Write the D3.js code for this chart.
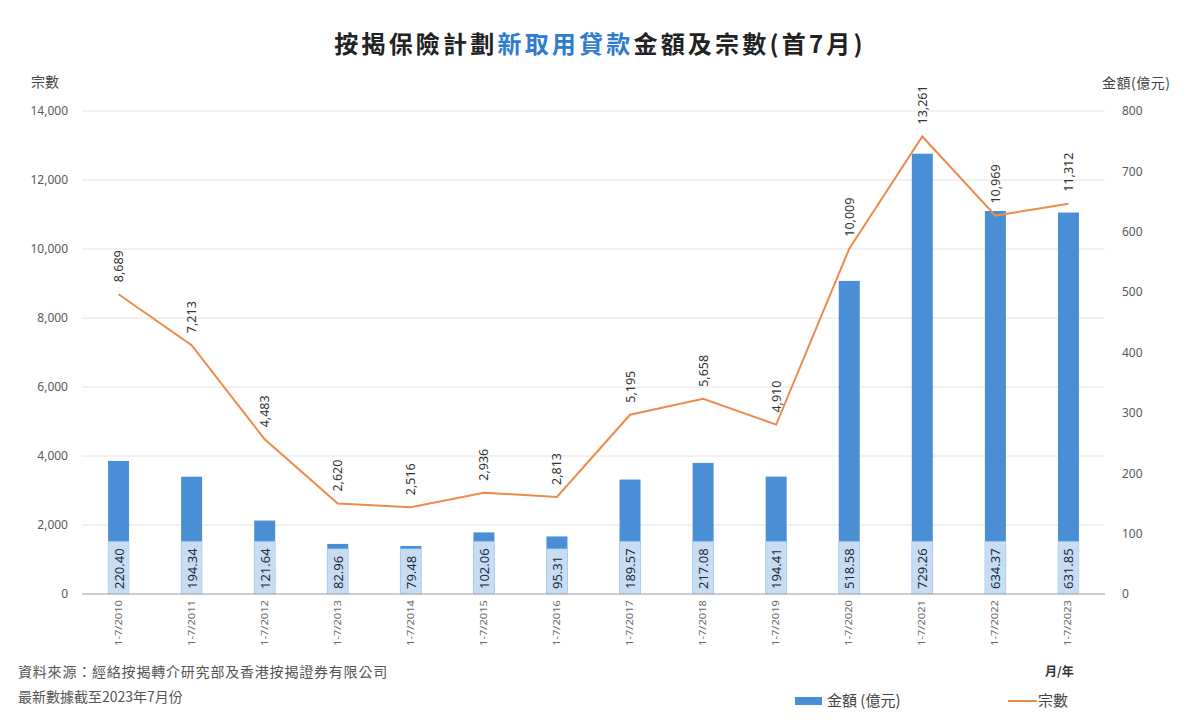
<!DOCTYPE html>
<html><head><meta charset="utf-8">
<script src="https://cdn.jsdelivr.net/npm/d3@7"></script>
<style>
body{margin:0;background:#fff;}
svg{display:block;font-family:"Noto Sans CJK TC","Noto Sans",sans-serif;}
</style></head>
<body><svg id="c" width="1200" height="721"></svg>
<script>
const categories = ["1-7/2010","1-7/2011","1-7/2012","1-7/2013","1-7/2014","1-7/2015","1-7/2016","1-7/2017","1-7/2018","1-7/2019","1-7/2020","1-7/2021","1-7/2022","1-7/2023"];
const amounts = [220.40,194.34,121.64,82.96,79.48,102.06,95.31,189.57,217.08,194.41,518.58,729.26,634.37,631.85];
const counts = [8689,7213,4483,2620,2516,2936,2813,5195,5658,4910,10009,13261,10969,11312];
const leftTicks = [0,2000,4000,6000,8000,10000,12000,14000];
const rightTicks = [0,100,200,300,400,500,600,700,800];

const svg = d3.select("#c");
const L = 82, R = 1105, T = 111, B = 594;
const x = d3.scaleBand().domain(categories).range([L, R]);
const yL = d3.scaleLinear().domain([0,14000]).range([B, T]);
const yR = d3.scaleLinear().domain([0,800]).range([B, T]);
const barW = 21;
const barColor = "#4a8fd6", lineColor = "#ee8a4a";

// title
const title = svg.append("text").attr("x",600).attr("y",53).attr("text-anchor","middle")
  .attr("font-size",24).attr("font-weight","bold").attr("letter-spacing",3.2).attr("fill","#222");
title.append("tspan").text("按揭保險計劃");
title.append("tspan").attr("fill","#2e7bd0").text("新取用貸款");
title.append("tspan").text("金額及宗數(首7月)");

// grid
svg.append("g").selectAll("line").data(leftTicks.slice(1)).join("line")
  .attr("x1",L).attr("x2",R).attr("y1",d=>yL(d)).attr("y2",d=>yL(d))
  .attr("stroke","#e4e4e4").attr("stroke-width",1);

// left axis
const gl = svg.append("g").attr("transform",`translate(${L},0)`)
  .call(d3.axisLeft(yL).tickValues(leftTicks).tickFormat(d3.format(",")).tickSize(0).tickPadding(14));
gl.select(".domain").remove();
gl.selectAll("text").attr("font-size",12).attr("fill","#595959").attr("font-family","'Noto Sans',sans-serif");

// right axis
const gr = svg.append("g").attr("transform",`translate(${R},0)`)
  .call(d3.axisRight(yR).tickValues(rightTicks).tickSize(0).tickPadding(17));
gr.select(".domain").remove();
gr.selectAll("text").attr("font-size",12).attr("fill","#595959").attr("font-family","'Noto Sans',sans-serif");

// axis titles
svg.append("text").attr("x",31).attr("y",87).attr("font-size",14).attr("fill","#444").text("宗數");
svg.append("text").attr("x",1102).attr("y",88).attr("font-size",14).attr("letter-spacing",0.5).attr("fill","#444").text("金額(億元)");

// bars
const cx = d => x(d) + x.bandwidth()/2;
svg.append("g").selectAll("rect").data(categories).join("rect")
  .attr("x",d=>cx(d)-barW/2).attr("width",barW)
  .attr("y",(d,i)=>yR(amounts[i])).attr("height",(d,i)=>B-yR(amounts[i]))
  .attr("fill",barColor);

// bar labels with light boxes
const bl = svg.append("g");
categories.forEach((c,i)=>{
  const g = bl.append("g");
  const t = g.append("text").attr("transform",`translate(${cx(c)+5},${B-5}) rotate(-90)`)
    .attr("font-size",13).attr("fill","#1f2a3a").attr("font-family","'Noto Sans',sans-serif")
    .text(d3.format(".2f")(amounts[i]));
  const len = t.node().getComputedTextLength();
  g.insert("rect","text").attr("x",cx(c)-barW/2).attr("width",barW)
    .attr("y",B-len-12).attr("height",len+12)
    .attr("fill","#c6ddf3").attr("stroke","#9fc3e8").attr("stroke-width",0.6).attr("stroke-dasharray","1.5,1");
});

// baseline
svg.append("line").attr("x1",L).attr("x2",R).attr("y1",B).attr("y2",B).attr("stroke","#9a9a9a").attr("stroke-width",1);

// line
const line = d3.line().x((d,i)=>cx(categories[i])).y(d=>yL(d));
svg.append("path").datum(counts).attr("d",line).attr("fill","none")
  .attr("stroke",lineColor).attr("stroke-width",2);

// line labels
svg.append("g").selectAll("text").data(counts).join("text")
  .attr("transform",(d,i)=>`translate(${cx(categories[i])+4.5},${yL(d)-12}) rotate(-90)`)
  .attr("font-size",12.5).attr("fill","#333").attr("font-family","'Noto Sans',sans-serif")
  .text(d=>d3.format(",")(d));

// x labels
svg.append("g").selectAll("text").data(categories).join("text")
  .attr("transform",d=>`translate(${cx(d)+3},${B+6}) rotate(-90)`)
  .attr("text-anchor","end").attr("font-size",8).attr("fill","#666")
  .attr("textLength",46).attr("lengthAdjust","spacingAndGlyphs")
  .attr("font-family","'Noto Sans',sans-serif")
  .text(d=>d);

// footer
svg.append("text").attr("x",18).attr("y",677).attr("font-size",14).attr("letter-spacing",0.8).attr("fill","#555")
  .text("資料來源：經絡按揭轉介研究部及香港按揭證券有限公司");
svg.append("text").attr("x",18).attr("y",702).attr("font-size",14).attr("fill","#555")
  .text("最新數據截至2023年7月份");
svg.append("text").attr("x",1045).attr("y",676).attr("font-size",12).attr("font-weight","bold").attr("fill","#333").text("月/年");

// legend
svg.append("rect").attr("x",795).attr("y",697).attr("width",27).attr("height",8).attr("fill",barColor);
svg.append("text").attr("x",827).attr("y",706).attr("font-size",15).attr("fill","#444").text("金額 (億元)");
svg.append("line").attr("x1",1008).attr("x2",1037).attr("y1",701).attr("y2",701).attr("stroke",lineColor).attr("stroke-width",2);
svg.append("text").attr("x",1038).attr("y",706).attr("font-size",15).attr("fill","#444").text("宗數");
</script></body></html>
